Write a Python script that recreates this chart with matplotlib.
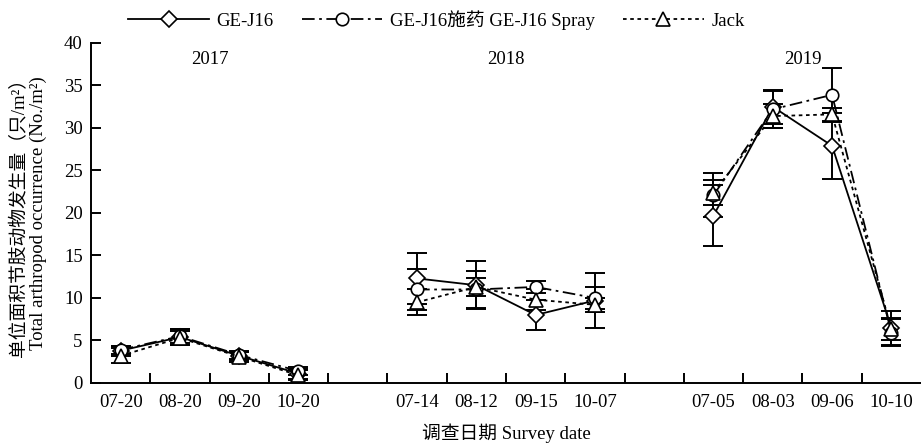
import matplotlib
matplotlib.use("Agg")
import matplotlib.pyplot as plt
from matplotlib.lines import Line2D
import numpy as np

plt.rcParams['font.family'] = ['Liberation Serif', 'Noto Sans CJK SC', 'DejaVu Sans']

dates = ['07-20', '08-20', '09-20', '10-20',
         '07-14', '08-12', '09-15', '10-07',
         '07-05', '08-03', '09-06', '10-10']
years = ['2017', '2018', '2019']

ge = [3.8, 5.4, 3.2, 1.1, 12.3, 11.5, 8.0, 9.7, 19.7, 32.5, 27.9, 6.5]
ge_err = [0.6, 0.9, 0.5, 0.6, 3.0, 2.8, 1.8, 3.2, 3.6, 2.0, 3.9, 2.0]
spray = [3.9, 5.5, 3.3, 1.4, 11.0, 11.0, 11.3, 10.0, 22.1, 32.2, 33.9, 5.9]
spray_err = [0.5, 0.8, 0.5, 0.5, 2.4, 2.2, 0.7, 1.3, 2.6, 2.2, 3.2, 1.6]
jack = [3.2, 5.3, 3.1, 0.9, 9.5, 11.3, 9.8, 9.2, 22.4, 31.4, 31.6, 6.3]
jack_err = [0.9, 0.8, 0.6, 0.6, 1.5, 1.1, 1.2, 0.8, 1.5, 1.4, 0.8, 1.3]

labels = ['GE-J16', 'GE-J16施药 GE-J16 Spray', 'Jack']
markers = ['D', 'o', '^']
msizes = [8, 9, 9.5]
lstyles = ['-', (0, (7, 2.5, 1.5, 2.5)), (0, (2, 2))]

fig = plt.figure(figsize=(9.21, 4.46), dpi=100)
ax = fig.add_axes([0.0988, 0.1413, 0.9012, 0.7623])

n_per = 4
ngroups = len(years)
xpos = []
for g in range(ngroups):
    for k in range(n_per):
        xpos.append(g * (n_per + 1) + k + 0.5)
xpos = np.array(xpos)

series = [(ge, ge_err), (spray, spray_err), (jack, jack_err)]
for (vals, errs), mk, ms, ls in zip(series, markers, msizes, lstyles):
    vals = np.array(vals)
    errs = np.array(errs)
    for g in range(ngroups):
        sl = slice(g * n_per, (g + 1) * n_per)
        ax.errorbar(xpos[sl], vals[sl], yerr=errs[sl], fmt='none',
                    ecolor='black', elinewidth=1.4, capsize=7, capthick=1.4, zorder=2)
        ax.plot(xpos[sl], vals[sl], color='black', linestyle=ls, linewidth=1.3,
                marker=mk, markersize=ms, markerfacecolor='white',
                markeredgecolor='black', markeredgewidth=1.2, zorder=3)

ax.set_xlim(0, ngroups * (n_per + 1) - 1)
ax.set_ylim(0, 40)
ax.set_yticks(np.arange(0, 41, 5))
ax.set_xticks(np.arange(1, ngroups * (n_per + 1) - 1))
ax.set_xticklabels([])
ax.set_xticks(xpos, minor=True)
ax.set_xticklabels(dates, minor=True)
ax.tick_params(axis='x', which='minor', length=0, labelsize=13.5, pad=8)
ax.tick_params(axis='x', which='major', direction='in', length=7, width=1.4)
ax.tick_params(axis='y', direction='in', length=7, width=1.4, labelsize=13.5, pad=6)
for s in ['top', 'right']:
    ax.spines[s].set_visible(False)
for s in ['left', 'bottom']:
    ax.spines[s].set_linewidth(1.4)

for g, yr in enumerate(years):
    ax.text(g * (n_per + 1) + n_per / 2, 38, yr, ha='center', va='center', fontsize=13.5)

ax.set_xlabel('调查日期 Survey date', fontsize=13.5, labelpad=9)
ax.set_ylabel('单位面积节肢动物发生量（只/m²）\nTotal arthropod occurrence (No./m²)',
              fontsize=13.5, linespacing=1.15, labelpad=12)

handles = [Line2D([], [], color='black', linestyle=ls, linewidth=1.3, marker=mk,
                  markersize=ms, markerfacecolor='white', markeredgecolor='black',
                  markeredgewidth=1.2)
           for mk, ms, ls in zip(markers, msizes, lstyles)]
fig.legend(handles, labels, loc='center', bbox_to_anchor=(0.474, 0.955), ncol=3,
           frameon=False, fontsize=13.5, handlelength=4.3, columnspacing=1.5,
           handletextpad=0.4, numpoints=1)

fig.savefig('out.png', dpi=100)
